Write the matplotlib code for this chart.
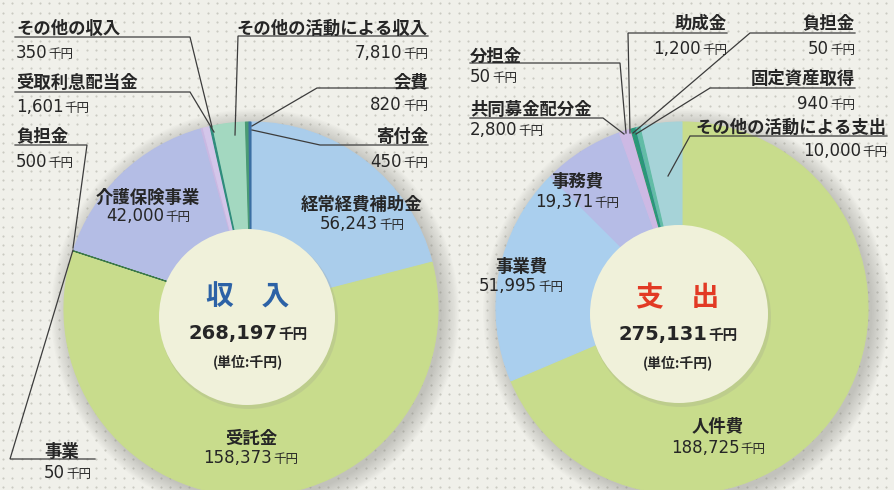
import numpy as np
import matplotlib
matplotlib.use('Agg')
import matplotlib.pyplot as plt
from matplotlib.patches import Circle

plt.rcParams['font.family'] = ['Noto Sans CJK JP', 'DejaVu Sans']

# ---------------- data ----------------
inc_labels = ['経常経費補助金', '受託金', '事業', '介護保険事業', '負担金',
              '受取利息配当金', 'その他の収入', 'その他の活動による収入', '会費', '寄付金']
inc_values = [56243, 158373, 50, 42000, 500, 1601, 350, 7810, 820, 450]
inc_total = 268197

exp_labels = ['人件費', '事業費', '事務費', '共同募金配分金', '分担金', '助成金',
              '負担金', '固定資産取得', 'その他の活動による支出']
exp_values = [188725, 51995, 19371, 2800, 50, 1200, 50, 940, 10000]
exp_total = 275131

unit = '千円'
center_titles = ['収　入', '支　出']
unit_note = '(単位:千円)'

# ---------------- style ----------------
W, H = 895, 490
BG = '#f0f0ea'
INNER = '#f0f1da'
TC = '#262626'
LC = '#3c3c3c'
LS = 12.5    # label size
NS = 12      # number size
US = 9       # unit size

inc_colors = ['#aacdeb', '#c8dc8c', '#3d7a48', '#b4bde5', '#c9b8e2',
              '#d4c6ea', '#2f8c7c', '#a3d8c0', '#4a9a74', '#3b6fa3']
exp_colors = ['#c8dc8c', '#aacfee', '#b6bce6', '#cdb9e4', '#e6a3c4',
              '#2a9878', '#3f7e9e', '#62bca6', '#a6d3d8']
title_colors = ['#2c62a6', '#e23a24']

fig = plt.figure(figsize=(W / 100, H / 100), dpi=100)
fig.patch.set_facecolor(BG)
ax = fig.add_axes([0, 0, 1, 1])


def Y(y):
    return H - y


# dotted background texture
gx, gy = np.meshgrid(np.arange(3, W, 9.3), np.arange(3, H, 9.3))
ax.scatter(gx.ravel(), gy.ravel(), s=2.4, c='#cacac1', marker='o', linewidths=0, zorder=0)

pies = [
    dict(values=inc_values, colors=inc_colors, c=(251, 309), r=187, ic=(247, 317), ir=88),
    dict(values=exp_values, colors=exp_colors, c=(682, 308), r=186, ic=(679, 314), ir=89),
]
for p in pies:
    cx, cy = p['c']
    for i in range(14):
        ax.add_patch(Circle((cx + 4, Y(cy) - 4), p['r'] + 1.3 * i, facecolor='#8c8c86',
                            alpha=0.035, lw=0, zorder=1))
    wedges, _ = ax.pie(p['values'], colors=p['colors'], startangle=90, counterclock=False,
                       center=(cx, Y(cy)), radius=p['r'], frame=True,
                       wedgeprops=dict(linewidth=0.8, zorder=2))
    for w, v in zip(wedges, p['values']):
        w.set_edgecolor(w.get_facecolor())
        if v < 2000:
            w.set_zorder(3)
    icx, icy = p['ic']
    ax.add_patch(Circle((icx + 2, Y(icy) - 3), p['ir'] + 1, facecolor='#9a9a8c', alpha=0.22,
                        lw=0, zorder=4))
    ax.add_patch(Circle((icx, Y(icy)), p['ir'], facecolor=INNER, lw=0, zorder=5))

ax.set_xlim(0, W)
ax.set_ylim(0, H)
ax.set_aspect('equal')
ax.axis('off')

renderer = fig.canvas.get_renderer()


def ctext(x, yc, s, size=LS, ha='center', color=TC, weight='bold', **kw):
    em = size * 100 / 72
    return ax.text(x, Y(yc + 0.38 * em), s, ha=ha, va='baseline', size=size, color=color,
                   weight=weight, zorder=8, **kw)


def money(x, yc, v, ha='center', size=NS, usize=US, weight='normal'):
    em = size * 100 / 72
    yb = Y(yc + 0.365 * em)
    t1 = ax.text(0, yb, f'{v:,}', ha='left', va='baseline', size=size, family='DejaVu Sans',
                 weight=weight, color=TC, zorder=8)
    t2 = ax.text(0, yb, unit, ha='left', va='baseline', size=usize, weight=weight,
                 color=TC, zorder=8)
    w1 = t1.get_window_extent(renderer).width
    w2 = t2.get_window_extent(renderer).width
    gap = 1.0
    tot = w1 + gap + w2
    if ha == 'left':
        x0 = x
    elif ha == 'right':
        x0 = x - tot
    else:
        x0 = x - tot / 2
    t1.set_x(x0)
    t2.set_x(x0 + w1 + gap)


def leader(pts):
    ax.plot([q[0] for q in pts], [Y(q[1]) for q in pts], color=LC, lw=0.9, zorder=7,
            solid_joinstyle='miter')


# ---- outer labels (index, ha, x, label-centre y, number-centre y, leader path) ----
inc_outer = [
    (6, 'left', 16, 27, 52, [(15, 37), (190, 37), (212, 127)]),
    (5, 'left', 16, 81, 106, [(15, 92), (190, 92), (214, 132)]),
    (4, 'left', 16, 135, 161, [(15, 145), (87, 145), (73, 248)]),
    (2, 'left', 44, 450, 472, [(95, 459), (10, 459), (73, 250)]),
    (7, 'right', 428, 27, 52, [(428, 36), (238, 36), (235, 135)]),
    (8, 'right', 428, 81, 104, [(428, 88), (317, 88), (252, 126)]),
    (9, 'right', 428, 135, 161, [(428, 145), (320, 145), (252, 130)]),
]
inc_inner = [(3, 148, 196, 215), (0, 362, 203, 223), (1, 251, 437, 457)]

exp_outer = [
    (4, 'left', 470, 55, 76, [(470, 63), (620, 63), (626, 133)]),
    (3, 'left', 470, 108, 129, [(470, 118), (603, 118), (624, 134)]),
    (5, 'right', 727, 22, 48, [(727, 33), (628, 33), (630, 133)]),
    (6, 'right', 855, 22, 48, [(855, 33), (750, 33), (633, 133)]),
    (7, 'right', 855, 77, 103, [(855, 88), (710, 88), (636, 134)]),
    (8, 'right', 887, 126, 150, [(887, 136), (690, 136), (668, 176)]),
]
exp_inner = [(2, 577, 180, 201), (1, 521, 265, 285), (0, 718, 425, 447)]

for labels, values, outer, inner in [(inc_labels, inc_values, inc_outer, inc_inner),
                                     (exp_labels, exp_values, exp_outer, exp_inner)]:
    for idx, ha, x, ly, ny, path in outer:
        ctext(x, ly, labels[idx], ha=ha)
        money(x, ny, values[idx], ha=ha)
        leader(path)
    for idx, x, ly, ny in inner:
        ctext(x, ly, labels[idx])
        money(x, ny, values[idx])

# ---- centre texts ----
for (x, ty, vy, uy), title, tcol, total in [((248, 295, 332, 361), center_titles[0], title_colors[0], inc_total),
                                            ((678, 296, 333, 362), center_titles[1], title_colors[1], exp_total)]:
    ctext(x, ty, title, size=20, color=tcol)
    money(x, vy, total, size=14, usize=10.5, weight='bold')
    ctext(x, uy, unit_note, size=10)

fig.savefig('out.png', dpi=100, facecolor=BG)
